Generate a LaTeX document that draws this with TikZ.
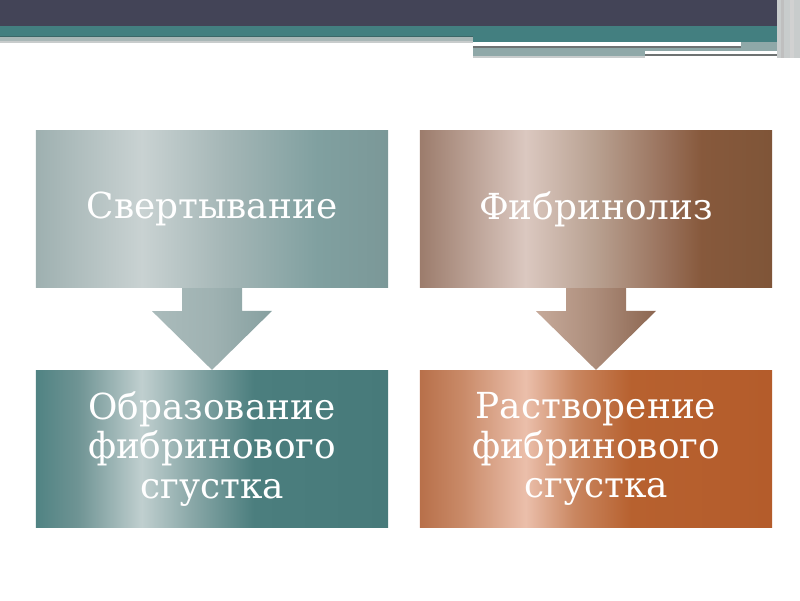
\documentclass[tikz,border=0pt]{standalone}
\usepackage{fontspec}
\setmainfont{DejaVu Serif}
\usetikzlibrary{calc}

% цвета полосы сверху
\definecolor{navy}{HTML}{434457}
\definecolor{tealband}{HTML}{437F80}
\definecolor{tealdark}{HTML}{3C6768}
\definecolor{tealgray}{HTML}{8FA8A8}
\definecolor{lightgray}{HTML}{C8CCCC}
\definecolor{midgray}{HTML}{A9B7B7}
\definecolor{linegray}{HTML}{6E7272}

% заливки блоков (рабочая область 25bp..75bp)
\pgfdeclarehorizontalshading{graytop}{100bp}{%
  color(0bp)=(rgb,255:red,158;green,176;blue,176);
  color(25bp)=(rgb,255:red,158;green,176;blue,176);
  color(40bp)=(rgb,255:red,201;green,210;blue,210);
  color(52bp)=(rgb,255:red,164;green,182;blue,182);
  color(65bp)=(rgb,255:red,128;green,160;blue,160);
  color(75bp)=(rgb,255:red,123;green,152;blue,152);
  color(100bp)=(rgb,255:red,123;green,152;blue,152)}
\pgfdeclarehorizontalshading{tealbottom}{100bp}{%
  color(0bp)=(rgb,255:red,80;green,131;blue,131);
  color(25bp)=(rgb,255:red,80;green,131;blue,131);
  color(31bp)=(rgb,255:red,111;green,148;blue,148);
  color(40bp)=(rgb,255:red,192;green,207;blue,207);
  color(47bp)=(rgb,255:red,138;green,168;blue,168);
  color(56bp)=(rgb,255:red,75;green,126;blue,126);
  color(75bp)=(rgb,255:red,71;green,122;blue,122);
  color(100bp)=(rgb,255:red,71;green,122;blue,122)}
\pgfdeclarehorizontalshading{browntop}{100bp}{%
  color(0bp)=(rgb,255:red,156;green,124;blue,108);
  color(25bp)=(rgb,255:red,156;green,124;blue,108);
  color(40bp)=(rgb,255:red,219;green,200;blue,192);
  color(50bp)=(rgb,255:red,184;green,160;blue,144);
  color(60bp)=(rgb,255:red,152;green,112;blue,90);
  color(65bp)=(rgb,255:red,135;green,89;blue,60);
  color(75bp)=(rgb,255:red,127;green,85;blue,56);
  color(100bp)=(rgb,255:red,127;green,85;blue,56)}
\pgfdeclarehorizontalshading{orangebottom}{100bp}{%
  color(0bp)=(rgb,255:red,184;green,112;blue,74);
  color(25bp)=(rgb,255:red,184;green,112;blue,74);
  color(31bp)=(rgb,255:red,201;green,138;blue,104);
  color(40bp)=(rgb,255:red,235;green,191;blue,171);
  color(47bp)=(rgb,255:red,201;green,134;blue,96);
  color(55bp)=(rgb,255:red,183;green,97;blue,47);
  color(75bp)=(rgb,255:red,180;green,92;blue,43);
  color(100bp)=(rgb,255:red,180;green,92;blue,43)}
\pgfdeclarehorizontalshading{grayarrow}{100bp}{%
  color(0bp)=(rgb,255:red,170;green,187;blue,187);
  color(25bp)=(rgb,255:red,170;green,187;blue,187);
  color(50bp)=(rgb,255:red,159;green,178;blue,178);
  color(75bp)=(rgb,255:red,134;green,160;blue,160);
  color(100bp)=(rgb,255:red,134;green,160;blue,160)}
\pgfdeclarehorizontalshading{brownarrow}{100bp}{%
  color(0bp)=(rgb,255:red,198;green,170;blue,154);
  color(25bp)=(rgb,255:red,198;green,170;blue,154);
  color(50bp)=(rgb,255:red,172;green,140;blue,122);
  color(75bp)=(rgb,255:red,140;green,102;blue,80);
  color(100bp)=(rgb,255:red,140;green,102;blue,80)}

\begin{document}
\begin{tikzpicture}[x=0.25mm, y=-0.25mm,
    box/.style={minimum width=8.8cm, minimum height=3.94cm, inner sep=0pt,
      text=white, align=center, font=\fontsize{25.5}{28}\selectfont}]

    % Фон и границы слайда
    \fill[white] (0,0) rectangle (800,600);
    \useasboundingbox (0,0) rectangle (800,600);

    % Верхняя полоса
    \fill[navy] (0,0) rectangle (777,26);
    \fill[tealband] (0,26) rectangle (777,36);
    \fill[tealband] (473,36) rectangle (777,42);
    \fill[tealdark] (0,36) rectangle (473,37);
    \fill[midgray] (0,37) rectangle (473,41);
    \fill[lightgray] (0,41) rectangle (473,43);

    % Правая часть полосы
    \fill[tealgray] (473,42) rectangle (777,56);
    \fill[white] (473,42) rectangle (741,46);
    \fill[linegray] (473,46) rectangle (741,48);
    \fill[white] (645,51) rectangle (785,54);
    \fill[linegray] (645,54) rectangle (785,56);
    \fill[lightgray] (473,56) rectangle (645,58);

    % Вертикальные полоски у правого края
    \fill[lightgray] (777,0) rectangle (800,58);
    \fill[black!25] (781,0) rectangle (784,58);
    \fill[black!18] (790,0) rectangle (794,58);

    % Блоки
    \node[box, shading=graytop]     (svert)  at (212,209) {Свертывание};
    \node[box, shading=browntop]    (fibrin) at (596,209) {Фибринолиз};
    \node[box, shading=tealbottom]  (obraz)  at (212,449) {Образование\\фибринового\\сгустка};
    \node[box, shading=orangebottom](rastv)  at (596,449) {Растворение\\фибринового\\сгустка};

    % Стрелки вниз
    \shade[shading=grayarrow] ($(svert.south)+(-30,0)$) -- ++(0,23) -- ++(-30,0)
        -- (obraz.north) -- ++(60,-59) -- ++(-30,0) -- ($(svert.south)+(30,0)$) -- cycle;
    \shade[shading=brownarrow] ($(fibrin.south)+(-30,0)$) -- ++(0,23) -- ++(-30,0)
        -- (rastv.north) -- ++(60,-59) -- ++(-30,0) -- ($(fibrin.south)+(30,0)$) -- cycle;

\end{tikzpicture}
\end{document}
